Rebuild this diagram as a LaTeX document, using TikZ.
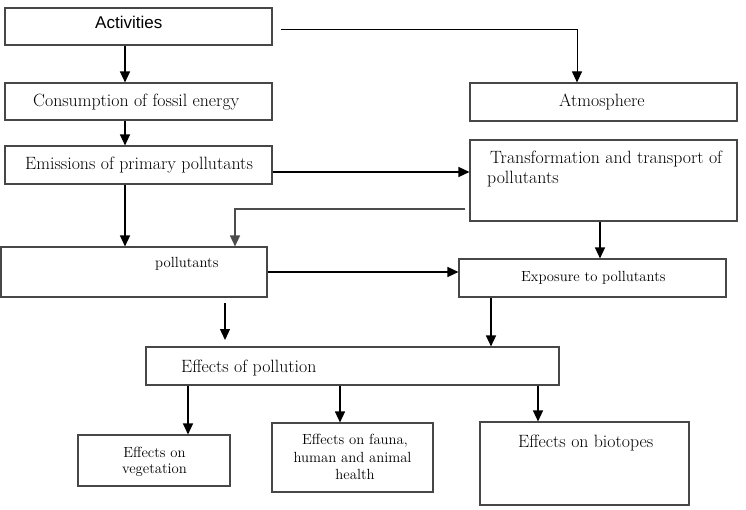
\documentclass[tikz,border=0pt]{standalone}
\usepackage{fontspec}
\newfontfamily\arialfont{Liberation Sans}
\usetikzlibrary{arrows.meta}
\tikzset{
  box/.style={draw=black!72, line width=1.1pt, rectangle, inner sep=0pt, fill=white},
  big/.style={font=\fontsize{17.8}{21}\selectfont\addfontfeatures{FakeBold=0.4}, inner sep=0pt, anchor=base west},
  small/.style={font=\fontsize{14.7}{17}\selectfont\addfontfeatures{FakeBold=0.4}, inner sep=0pt, anchor=base west},
  smallc/.style={font=\fontsize{14.7}{17}\selectfont\addfontfeatures{FakeBold=0.4}, inner sep=0pt, anchor=base},
  arr/.style={line width=1.3pt, -{Triangle[length=11pt,width=10pt]}},
  thinarr/.style={line width=1pt, -{Triangle[length=11pt,width=10pt]}},
  grayarr/.style={draw=black!70, line width=1.3pt, -{Triangle[length=11pt,width=10pt]}}
}
\begin{document}
\begin{tikzpicture}[x=1pt,y=-1pt]
\useasboundingbox (0,0) rectangle (746,510);
% boxes
\node[box, minimum width=267pt, minimum height=37pt] (act) at (138.5,26.5) {};
\node[box, minimum width=267pt, minimum height=37pt] (cons) at (138.5,101.5) {};
\node[box, minimum width=267pt, minimum height=38pt] (emis) at (138.5,165) {};
\node[box, minimum width=266pt, minimum height=50pt] (poll) at (134,272) {};
\node[box, minimum width=267pt, minimum height=38pt] (atm) at (603.5,102) {};
\node[box, minimum width=267pt, minimum height=81pt] (trans) at (603.5,180.5) {};
\node[box, minimum width=267pt, minimum height=38pt] (expo) at (592.5,278) {};
\node[box, minimum width=413pt, minimum height=38pt] (eff) at (352.5,366) {};
\node[box, minimum width=152pt, minimum height=51pt] (veg) at (154,460.5) {};
\node[box, minimum width=161pt, minimum height=69pt] (fauna) at (352.5,457.5) {};
\node[box, minimum width=209pt, minimum height=83pt] (bio) at (584.5,463.5) {};
% texts
\node[font=\arialfont\fontsize{17}{20}\selectfont, inner sep=0pt, anchor=base west] (tact) at (95,29) {Activities};
\node[big] (tcons) at (33,107) {Consumption of fossil energy};
\node[big] (temis) at (25,170) {Emissions of primary pollutants};
\node[big] (tatm) at (559,107) {Atmosphere};
\node[big] (ttrans1) at (490,164) {Transformation and transport of};
\node[big] (ttrans2) at (487,184) {pollutants};
\node[small] (tpoll) at (155,268) {pollutants};
\node[small] (texpo) at (521,282) {Exposure to pollutants};
\node[big] (teff) at (181,372) {Effects of pollution};
\node[smallc] (tveg1) at (154.5,457) {Effects on};
\node[smallc] (tveg2) at (154.5,473) {vegetation};
\node[smallc] (tfa1) at (355,444) {Effects on fauna,};
\node[smallc] (tfa2) at (352.5,462) {human and animal};
\node[smallc] (tfa3) at (355,479) {health};
\node[big] (tbio) at (518,447) {Effects on biotopes};
% connectors
\coordinate (aS) at (281,30);
\coordinate (tS) at (465,209);
\coordinate (pA) at (225,303);
\coordinate (pB) at (225,340);
\draw[arr] ([xshift=-13.5pt]act.south) -- ([xshift=-13.5pt]act.south |- cons.north);
\draw[thinarr] (aS) -| ([xshift=-26.5pt]atm.north);
\draw[arr] ([xshift=-13.5pt]cons.south) -- ([xshift=-13.5pt]cons.south |- emis.north);
\draw[arr] ([yshift=-7pt]emis.east) -- ([yshift=-7pt]emis.east -| trans.west);
\draw[arr] ([xshift=-13.5pt]emis.south) -- ([xshift=-13.5pt]emis.south |- poll.north);
\draw[grayarr] (tS) -| ([xshift=101pt]poll.north);
\draw[arr] ([xshift=-3.5pt]trans.south) -- ([xshift=-3.5pt]trans.south |- expo.north);
\draw[arr] (poll.east) -- (poll.east -| expo.west);
\draw[arr] (pA) -- (pB);
\draw[arr] ([xshift=-101.5pt]expo.south) -- ([xshift=-101.5pt]expo.south |- eff.north);
\draw[arr] ([xshift=-164.5pt]eff.south) -- ([xshift=-164.5pt]eff.south |- veg.north);
\draw[arr] ([xshift=-12.5pt]eff.south) -- ([xshift=-12.5pt]eff.south |- fauna.north);
\draw[arr] ([xshift=185.5pt]eff.south) -- ([xshift=185.5pt]eff.south |- bio.north);
\end{tikzpicture}
\end{document}
